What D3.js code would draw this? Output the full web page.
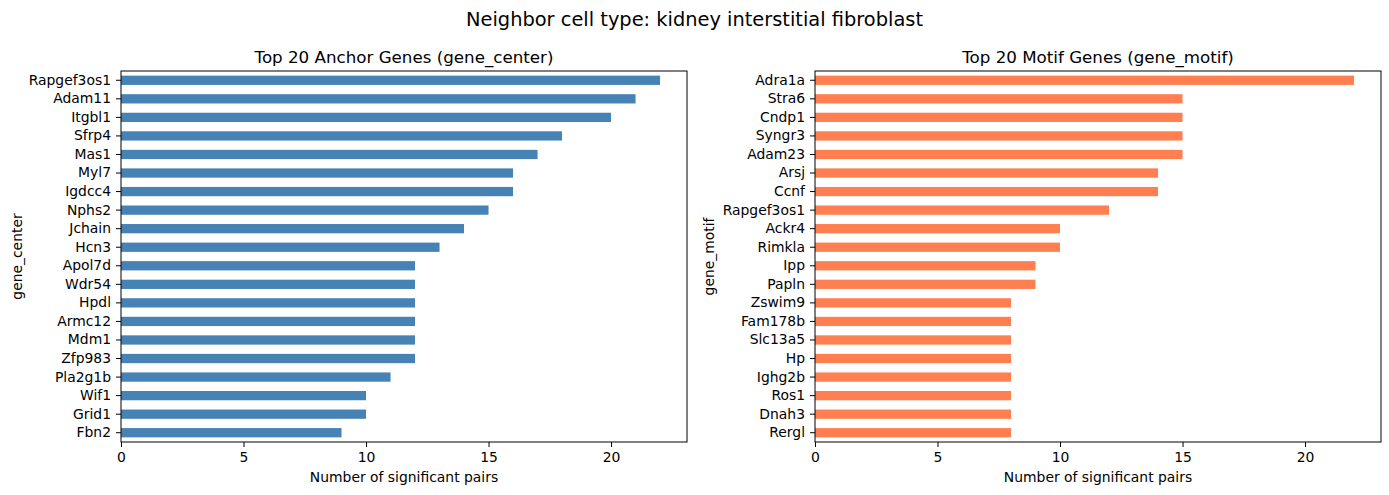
<!DOCTYPE html>
<html>
<head>
<meta charset="utf-8">
<script src="https://cdn.jsdelivr.net/npm/d3@7"></script>
<style>
  body { margin: 0; background: #fff; }
  text { font-family: "DejaVu Sans", sans-serif; fill: #000; }
</style>
</head>
<body>
<div id="chart"></div>
<script>
const width = 1389;
const height = 495;

// anchor genes (left panel)
const centerGenes = ["Rapgef3os1", "Adam11", "Itgbl1", "Sfrp4", "Mas1", "Myl7", "Igdcc4", "Nphs2", "Jchain", "Hcn3",
  "Apol7d", "Wdr54", "Hpdl", "Armc12", "Mdm1", "Zfp983", "Pla2g1b", "Wif1", "Grid1", "Fbn2"];
const centerCounts = [22, 21, 20, 18, 17, 16, 16, 15, 14, 13, 12, 12, 12, 12, 12, 12, 11, 10, 10, 9];

// motif genes (right panel)
const motifGenes = ["Adra1a", "Stra6", "Cndp1", "Syngr3", "Adam23", "Arsj", "Ccnf", "Rapgef3os1", "Ackr4", "Rimkla",
  "Ipp", "Papln", "Zswim9", "Fam178b", "Slc13a5", "Hp", "Ighg2b", "Ros1", "Dnah3", "Rergl"];
const motifCounts = [22, 15, 15, 15, 15, 14, 14, 12, 10, 10, 9, 9, 8, 8, 8, 8, 8, 8, 8, 8];

const xTicks = [0, 5, 10, 15, 20];

const svg = d3.select("#chart")
  .append("svg")
    .attr("width", width)
    .attr("height", height)

svg.append("text")
  .attr("x", width / 2)
  .attr("y", 26)
  .attr("text-anchor", "middle")
  .style("font-size", "19.4px")
  .text("Neighbor cell type: kidney interstitial fibroblast")

const plotTop = 71, plotBottom = 442;

function panel(left, right, genes, counts, color, title, ylabel, ylabelX) {
  const data = genes.map((g, i) => ({ gene: g, n: counts[i] }));

  const x = d3.scaleLinear()
    .domain([0, d3.max(counts) * 1.05])
    .range([left, right]);

  const y = d3.scaleBand()
    .domain(genes)
    .range([plotTop, plotBottom])
    .paddingInner(0.5)
    .paddingOuter(0.25);

  const g = svg.append("g");

  g.selectAll("rect")
    .data(data)
    .join("rect")
      .attr("x", x(0))
      .attr("y", d => y(d.gene))
      .attr("width", d => x(d.n) - x(0))
      .attr("height", y.bandwidth())
      .attr("fill", color)

  // frame
  g.append("rect")
    .attr("x", left)
    .attr("y", plotTop)
    .attr("width", right - left)
    .attr("height", plotBottom - plotTop)
    .attr("fill", "none")
    .attr("stroke", "#000")
    .attr("stroke-width", 1)

  const xAxis = g.append("g")
    .attr("transform", `translate(0,${plotBottom})`)
    .call(d3.axisBottom(x).tickValues(xTicks).tickSize(5).tickPadding(5).tickFormat(d3.format("d")))
  xAxis.select(".domain").remove()

  const yAxis = g.append("g")
    .attr("transform", `translate(${left},0)`)
    .call(d3.axisLeft(y).tickSize(5).tickPadding(5))
  yAxis.select(".domain").remove()

  g.selectAll(".tick text")
    .style("font-family", "DejaVu Sans, sans-serif")
    .style("font-size", "13.9px")
    .attr("fill", "#000")
  g.selectAll(".tick line").attr("stroke", "#000")

  g.append("text")
    .attr("x", (left + right) / 2)
    .attr("y", plotTop - 8)
    .attr("text-anchor", "middle")
    .style("font-size", "16.7px")
    .text(title)

  g.append("text")
    .attr("x", (left + right) / 2)
    .attr("y", 482)
    .attr("text-anchor", "middle")
    .style("font-size", "13.9px")
    .text("Number of significant pairs")

  g.append("text")
    .attr("transform", `translate(${ylabelX},${(plotTop + plotBottom) / 2}) rotate(-90)`)
    .attr("text-anchor", "middle")
    .style("font-size", "13.9px")
    .text(ylabel)
}

panel(121, 687, centerGenes, centerCounts, "steelblue", "Top 20 Anchor Genes (gene_center)", "gene_center", 22);
panel(815, 1381, motifGenes, motifCounts, "coral", "Top 20 Motif Genes (gene_motif)", "gene_motif", 714);
</script>
</body>
</html>
